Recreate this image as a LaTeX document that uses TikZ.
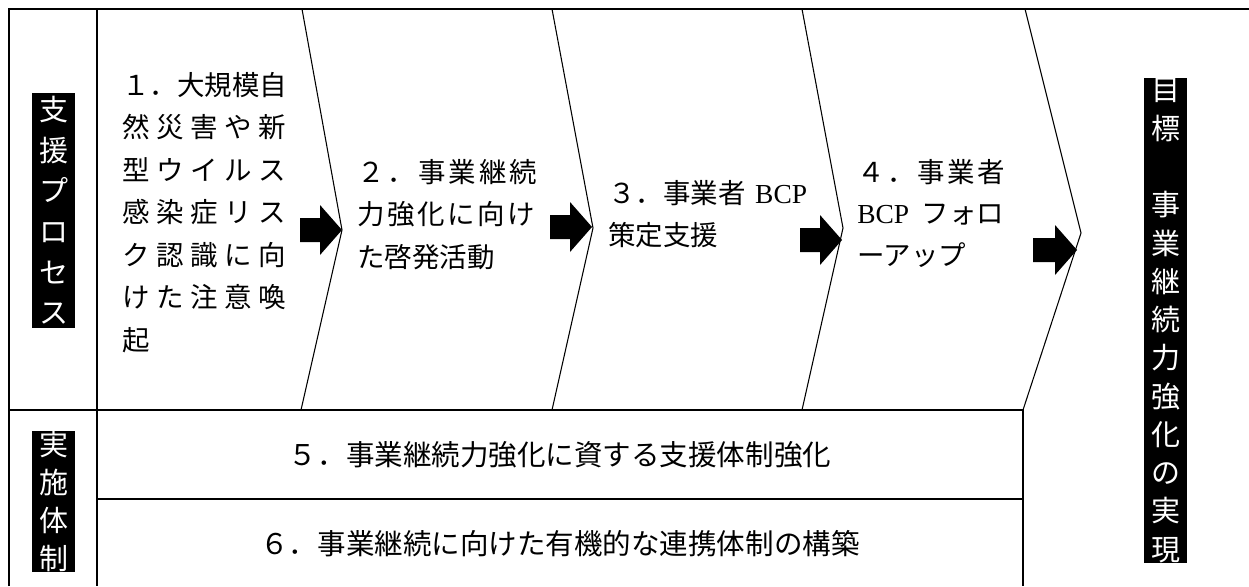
\documentclass[tikz,border=0pt]{standalone}
\usepackage{fontspec}
\setmainfont{Noto Sans CJK JP}
\newfontfamily\latinserif{Liberation Serif}
\begin{document}
\begin{tikzpicture}[x=0.75pt,y=-0.75pt,
  frame/.style={line width=1.5pt},
  chev/.style={line width=0.8pt, line join=miter},
  body/.style={inner sep=0pt, font=\fontsize{20.6}{24}\selectfont, anchor=base west},
  rowtxt/.style={inner sep=0pt, font=\fontsize{21.4}{24}\selectfont, anchor=base},
  tag/.style={fill=black, text=white, inner sep=0pt, align=center, minimum width=32.25pt}
]
\useasboundingbox (0,0) rectangle (1249,586);

% frame coordinates
\coordinate (tl) at (9,9);
\coordinate (tr) at (1249,9);
\coordinate (bl) at (9,586);
\coordinate (dt) at (97,9);
\coordinate (db) at (97,586);
\coordinate (h1l) at (9,410);
\coordinate (h1r) at (1023,410);
\coordinate (h2l) at (97,499);
\coordinate (h2r) at (1023,499);
\coordinate (rb) at (1023,586);

\draw[frame] (bl) -- (tl) -- (tr);
\draw[frame] (dt) -- (db);
\draw[frame] (h1l) -- (h1r) -- (rb);
\draw[frame] (h2l) -- (h2r);

% chevrons
\coordinate (c1t) at (302,9);  \coordinate (c1m) at (342,230);  \coordinate (c1b) at (301,410);
\coordinate (c2t) at (552,9);  \coordinate (c2m) at (593,228);  \coordinate (c2b) at (552,410);
\coordinate (c3t) at (802,9);  \coordinate (c3m) at (843,228);  \coordinate (c3b) at (802,410);
\coordinate (c4t) at (1025,9); \coordinate (c4m) at (1081,233); \coordinate (c4b) at (1023,410);
\draw[chev] (c1t) -- (c1m) -- (c1b);
\draw[chev] (c2t) -- (c2m) -- (c2b);
\draw[chev] (c3t) -- (c3m) -- (c3b);
\draw[chev] (c4t) -- (c4m) -- (c4b);

% block arrows
\foreach \L/\c/\len in {300/230/42, 550/227/42, 800/240/42, 1033/250/44}
  \fill[black] (\L,\c-12) -- (\L+\len-22,\c-12) -- (\L+\len-22,\c-25) -- (\L+\len,\c)
     -- (\L+\len-22,\c+25) -- (\L+\len-22,\c+12) -- (\L,\c+12) -- cycle;

% labels
\node[tag, minimum height=176.25pt, font=\fontsize{21.75}{30.45}\selectfont] (lab1) at (53.5,210.5)
  {支\\援\\プ\\ロ\\セ\\ス};
\node[tag, minimum height=105.75pt, font=\fontsize{21.75}{28.3}\selectfont] (lab2) at (53.5,501.5)
  {実\\施\\体\\制};
\node[tag, minimum height=363.75pt, font=\fontsize{21.75}{28.7}\selectfont] (lab3) at (1165.5,320.5)
  {目\\標\\　\\事\\業\\継\\続\\力\\強\\化\\の\\実\\現};

% box 1
\node[body] (b1a) at (122,95.4) {１．大規模自};
\node[body] (b1b) at (122,137.9) {\hbox to 123pt{然\hfil 災\hfil 害\hfil や\hfil 新}};
\node[body] (b1c) at (122,180.4) {\hbox to 123pt{型\hfil ウ\hfil イ\hfil ル\hfil ス}};
\node[body] (b1d) at (122,222.9) {\hbox to 123pt{感\hfil 染\hfil 症\hfil リ\hfil ス}};
\node[body] (b1e) at (122,265.4) {\hbox to 123pt{ク\hfil 認\hfil 識\hfil に\hfil 向}};
\node[body] (b1f) at (122,307.9) {\hbox to 123pt{け\hfil た\hfil 注\hfil 意\hfil 喚}};
\node[body] (b1g) at (122,350.4) {起};

% box 2
\node[body] (b2a) at (357,182.4) {\hbox to 135pt{２\hfil ．\hfil 事\hfil 業\hfil 継\hfil 続}};
\node[body] (b2b) at (357,224.4) {\hbox to 133.5pt{力\hfil 強\hfil 化\hfil に\hfil 向\hfil け}};
\node[body] (b2c) at (357,267.4) {た啓発活動};

% box 3
\node[body] (b3a) at (608,203.4) {３．事業者\hspace{0.35em}{\latinserif BCP}};
\node[body] (b3b) at (608,245.4) {策定支援};

% box 4
\node[body] (b4a) at (857,182.4) {\hbox to 111pt{４\hfil ．\hfil 事\hfil 業\hfil 者}};
\node[body] (b4b) at (857,223.4) {\hbox to 110pt{{\latinserif BCP}\hspace{0.45em}\hfil フ\hfil ォ\hfil ロ}};
\node[body] (b4c) at (857,265.4) {ーアップ};

% bottom rows
\node[rowtxt] (r5) at (560,465.8) {５．事業継続力強化に資する支援体制強化};
\node[rowtxt] (r6) at (560,554.8) {６．事業継続に向けた有機的な連携体制の構築};
\end{tikzpicture}
\end{document}
